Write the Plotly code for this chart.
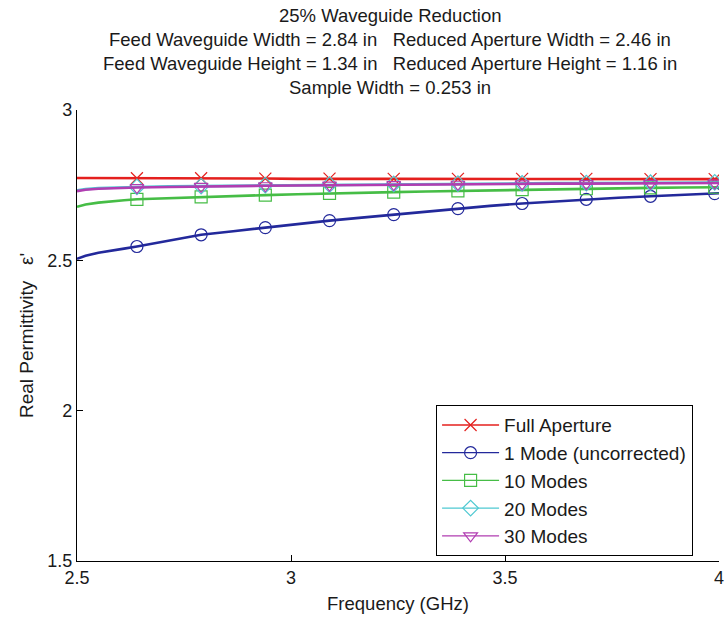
import plotly.graph_objects as go

freq = [2.50, 2.52, 2.55, 2.58, 2.61, 2.64, 2.715, 2.79, 2.865, 2.94, 3.015, 3.09, 3.165,
        3.24, 3.315, 3.39, 3.465, 3.54, 3.615, 3.69, 3.765, 3.84, 3.915, 3.99, 4.00]
marker_idx = [5, 7, 9, 11, 13, 15, 17, 19, 21, 23]

full_aperture = [2.774, 2.774, 2.773, 2.774, 2.773, 2.773, 2.772, 2.773, 2.772, 2.772, 2.771, 2.772, 2.771,
                 2.771, 2.771, 2.771, 2.770, 2.771, 2.770, 2.771, 2.770, 2.770, 2.771, 2.770, 2.770]
mode1 = [2.505, 2.515, 2.525, 2.533, 2.539, 2.546, 2.566, 2.585, 2.597, 2.609, 2.620, 2.632, 2.642,
         2.652, 2.662, 2.672, 2.681, 2.689, 2.696, 2.703, 2.708, 2.713, 2.718, 2.722, 2.723]
modes10 = [2.678, 2.686, 2.692, 2.697, 2.700, 2.703, 2.707, 2.711, 2.714, 2.717, 2.720, 2.723, 2.725,
           2.727, 2.729, 2.731, 2.733, 2.735, 2.737, 2.738, 2.740, 2.741, 2.742, 2.743, 2.743]
modes20 = [2.733, 2.737, 2.740, 2.742, 2.743, 2.744, 2.746, 2.747, 2.749, 2.750, 2.751, 2.752, 2.753,
           2.754, 2.755, 2.755, 2.756, 2.756, 2.757, 2.757, 2.758, 2.758, 2.758, 2.759, 2.759]
modes30 = [2.730, 2.735, 2.738, 2.740, 2.741, 2.742, 2.744, 2.746, 2.747, 2.748, 2.749, 2.750, 2.751,
           2.752, 2.753, 2.753, 2.754, 2.754, 2.755, 2.755, 2.756, 2.756, 2.756, 2.757, 2.757]

series = [
    ("Full Aperture", full_aperture, "#e4201e", "x-thin-open"),
    ("1 Mode (uncorrected)", mode1, "#23299b", "circle-open"),
    ("10 Modes", modes10, "#46bd46", "square-open"),
    ("20 Modes", modes20, "#4fc9d2", "diamond-open"),
    ("30 Modes", modes30, "#b13db1", "triangle-down-open"),
]

sp = "\u00a0\u00a0\u00a0"
title_lines = [
    "25% Waveguide Reduction",
    f"Feed Waveguide Width = 2.84 in{sp}Reduced Aperture Width = 2.46 in",
    f"Feed Waveguide Height = 1.34 in{sp}Reduced Aperture Height = 1.16 in",
    "Sample Width = 0.253 in",
]

FONT = "Liberation Sans, Arial, sans-serif"
TXT = "#1a1a1a"
fig = go.Figure()
for name, vals, color, sym in series:
    fig.add_trace(go.Scatter(x=freq, y=vals, mode="lines", line=dict(color=color, width=2.6),
                             showlegend=False, hoverinfo="skip"))
    fig.add_trace(go.Scatter(x=[freq[i] for i in marker_idx], y=[vals[i] for i in marker_idx],
                             mode="markers", showlegend=False,
                             marker=dict(symbol=sym, size=12, color=color, line=dict(width=1.2, color=color))))
for name, vals, color, sym in series:
    fig.add_trace(go.Scatter(x=[None], y=[None], mode="lines+markers", name=name,
                             line=dict(color=color, width=1.3),
                             marker=dict(symbol=sym, size=12, color=color, line=dict(width=1.2, color=color))))

# title lines as annotations (pixel centres ~16, 40, 64, 88 from top)
plot_top, plot_bottom = 110, 561
for k, line in enumerate(title_lines):
    ypx = 16 + 24 * k
    fig.add_annotation(text=line, xref="paper", yref="paper", x=0.4875,
                       y=(plot_bottom - ypx) / (plot_bottom - plot_top),
                       xanchor="center", yanchor="middle", showarrow=False,
                       font=dict(family=FONT, size=18.5, color=TXT))

fig.update_layout(
    width=726, height=620,
    margin=dict(l=77, r=7, t=110, b=59, autoexpand=False),
    paper_bgcolor="white", plot_bgcolor="white",
    font=dict(family=FONT, size=18, color=TXT),
    legend=dict(x=0.559, y=0.346, xanchor="left", yanchor="top", bgcolor="white",
                bordercolor="black", borderwidth=1.2, font=dict(family=FONT, size=19, color=TXT),
                tracegroupgap=0, itemwidth=57),
    xaxis=dict(range=[2.5, 4], tickvals=[2.5, 3, 3.5, 4], ticktext=["2.5", "3", "3.5", "4"],
               ticks="inside", ticklen=6, tickcolor="black", showline=True, linecolor="black",
               linewidth=1.3, showgrid=False, zeroline=False, mirror=False,
               tickfont=dict(family=FONT, size=18),
               title=dict(text="Frequency (GHz)", standoff=10, font=dict(family=FONT, size=18.5))),
    yaxis=dict(range=[1.5, 3], tickvals=[1.5, 2, 2.5, 3], ticktext=["1.5", "2", "2.5", "3"],
               ticks="inside", ticklen=6, tickcolor="black", showline=True, linecolor="black",
               linewidth=1.3, showgrid=False, zeroline=False, mirror=False,
               tickfont=dict(family=FONT, size=18),
               title=dict(text="Real Permittivity \u00a0\u00a0\u03b5'", standoff=8,
                          font=dict(family=FONT, size=19))),
)

fig.write_html("out.html")
